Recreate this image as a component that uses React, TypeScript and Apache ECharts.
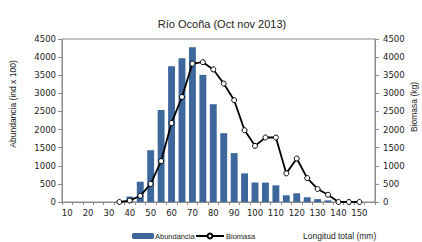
import React, { useEffect, useRef } from "react";
import * as echarts from "echarts";

const categories = [
  "10", "15", "20", "25", "30", "35", "40", "45", "50", "55",
  "60", "65", "70", "75", "80", "85", "90", "95", "100", "105",
  "110", "115", "120", "125", "130", "135", "140", "145", "150", "155",
];

const abundancia = [
  null, null, null, null, null, null, 150, 560, 1430, 2540,
  3750, 3970, 4270, 3510, 2700, 1900, 1350, 790, 535, 535,
  460, 185, 240, 130, 80, 45, null, null, null, null,
];

const biomasa = [
  null, null, null, null, null, 0, 40, 170, 500, 1130,
  2180, 2900, 3820, 3860, 3660, 3270, 2810, 1980, 1550, 1780,
  1780, 790, 1200, 660, 360, 200, 0, 0, 0, null,
];

const yMin = 0;
const yMax = 4500;
const yInterval = 500;

const title = "Río Ocoña (Oct nov 2013)";
const leftName = "Abundancia (ind x 100)";
const rightName = "Biomasa (kg)";
const xName = "Longitud total (mm)";

export default function App() {
  const ref = useRef<HTMLDivElement>(null);
  useEffect(() => {
    if (!ref.current) return;
    const chart = echarts.init(ref.current, undefined, { renderer: "svg" });
    const axisColor = "#8c8c8c";
    const tickFont = { fontFamily: "DejaVu Sans", fontSize: 8.5, color: "#222" };
    const fmt = (v: number) => String(v);
    const yAxisCommon = {
      type: "value" as const,
      min: yMin,
      max: yMax,
      interval: yInterval,
      splitLine: { show: false },
      axisLine: { show: true, lineStyle: { color: axisColor, width: 1 } },
      axisTick: { show: true, length: 4, lineStyle: { color: axisColor } },
    };
    chart.setOption({
      animation: false,
      backgroundColor: "#ffffff",
      title: {
        text: title,
        left: 217,
        textAlign: "center",
        top: 13,
        textStyle: { fontFamily: "Liberation Sans", fontSize: 11, fontWeight: "normal", color: "#222" },
      },
      grid: {
        left: 62,
        right: 47,
        top: 39,
        bottom: 40,
        show: true,
        borderColor: axisColor,
        borderWidth: 1,
        backgroundColor: "transparent",
      },
      legend: [
        {
          data: ["Abundancia"],
          left: 132,
          top: 232,
          itemWidth: 22,
          itemHeight: 6,
          itemGap: 0,
          padding: 0,
          textStyle: { fontFamily: "Liberation Sans", fontSize: 7.5, color: "#222", padding: [0, 0, 0, -4] },
        },
        {
          data: ["Biomasa"],
          left: 195,
          top: 232,
          itemWidth: 28,
          itemHeight: 6,
          padding: 0,
          textStyle: { fontFamily: "Liberation Sans", fontSize: 7.5, color: "#222", padding: [0, 0, 0, -3] },
        },
      ],
      xAxis: {
        type: "category",
        data: categories,
        boundaryGap: true,
        axisLine: { show: true, lineStyle: { color: axisColor, width: 1 } },
        axisTick: { show: true, interval: 0, length: 3, lineStyle: { color: axisColor } },
        axisLabel: { ...tickFont, interval: 1, margin: 6 },
        splitLine: { show: false },
      },
      yAxis: [
        {
          ...yAxisCommon,
          position: "left",
          axisLabel: { ...tickFont, margin: 6, formatter: fmt },
        },
        {
          ...yAxisCommon,
          position: "right",
          axisLabel: { ...tickFont, margin: 8, formatter: fmt },
        },
      ],
      series: [
        {
          name: "Abundancia",
          type: "bar",
          data: abundancia,
          yAxisIndex: 0,
          barWidth: "66%",
          itemStyle: { color: "#3E679C" },
        },
        {
          name: "Biomasa",
          type: "line",
          data: biomasa,
          yAxisIndex: 1,
          symbol: "circle",
          symbolSize: 5,
          showAllSymbol: true,
          lineStyle: { color: "#000", width: 1.8 },
          itemStyle: { color: "#fff", borderColor: "#000", borderWidth: 1 },
        },
      ],
      graphic: [
        {
          type: "text",
          x: 13,
          y: 104,
          rotation: Math.PI / 2,
          style: {
            text: leftName,
            fontFamily: "Liberation Sans",
            fontSize: 8.5,
            fill: "#222",
            textAlign: "center",
            textVerticalAlign: "middle",
          },
        },
        {
          type: "text",
          x: 414,
          y: 107,
          rotation: Math.PI / 2,
          style: {
            text: rightName,
            fontFamily: "Liberation Sans",
            fontSize: 8.5,
            fill: "#222",
            textAlign: "center",
            textVerticalAlign: "middle",
          },
        },
        {
          type: "text",
          x: 303,
          y: 236,
          style: {
            text: xName,
            fontFamily: "Liberation Sans",
            fontSize: 8.5,
            fill: "#222",
            textAlign: "left",
            textVerticalAlign: "middle",
          },
        },
      ],
    });
    return () => chart.dispose();
  }, []);
  return <div ref={ref} style={{ width: 422, height: 242, position: "absolute", left: 0, top: 0 }} />;
}
